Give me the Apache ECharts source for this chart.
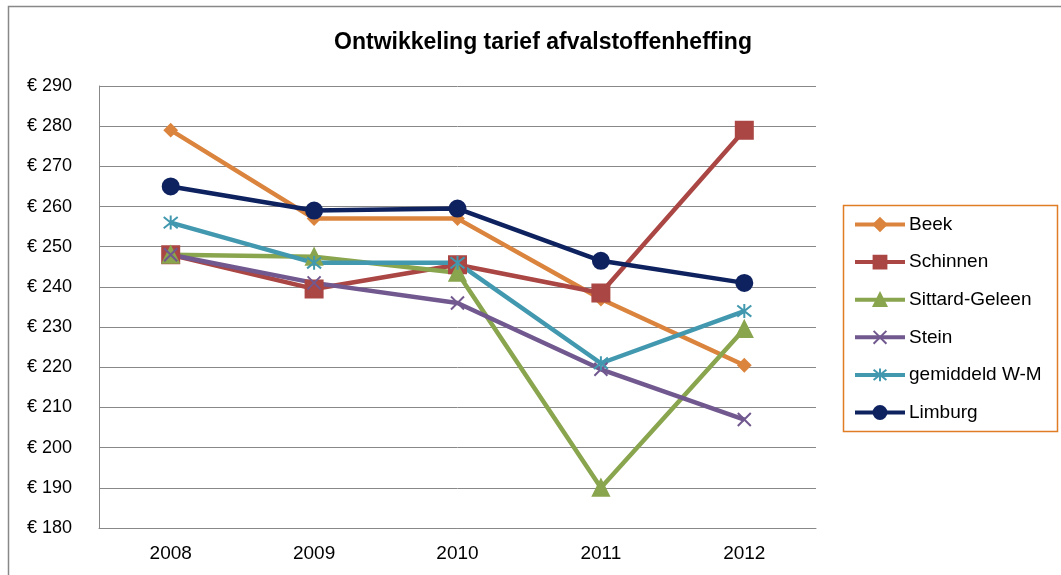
<!doctype html>
<html lang="nl">
<head>
    <meta charset="utf-8">
    <title>Ontwikkeling tarief afvalstoffenheffing</title>
    <script src="https://cdn.jsdelivr.net/npm/echarts@6/dist/echarts.min.js"></script>
    <style>
        html, body { margin: 0; padding: 0; background: #fff; }
        #chart { width: 1061px; height: 575px; }
    </style>
</head>
<body>
<div id="chart"></div>

<script type="text/javascript">
    // data
    const years = ['2008', '2009', '2010', '2011', '2012'];
    const beek = [279, 257, 257, 237, 220.5];
    const schinnen = [248, 239.5, 245.5, 238.5, 279];
    const sittardGeleen = [248, 247.5, 243.5, 190, 229.5];
    const stein = [248, 241, 236, 219.5, 207];
    const gemiddeldWM = [256, 246, 246, 221, 234];
    const limburg = [265, 259, 259.5, 246.5, 241];

    const crossPath = 'path://M0,0L10,10M10,0L0,10';
    const starPath = 'path://M0,1L10,9M10,1L0,9M5,0L5,10';

    function lineSeries(name, data, color, symbol, size) {
        return {
            name: name,
            type: 'line',
            data: data,
            symbol: symbol,
            symbolSize: size,
            lineStyle: {color: color, width: 4.5},
            itemStyle: {color: color, borderColor: color, borderWidth: 2},
            emphasis: {disabled: true}
        };
    }

    let chart = echarts.init(document.getElementById('chart'));

    let option = {
        animation: false,
        textStyle: {fontFamily: 'Liberation Sans, Arial, sans-serif'},
        title: {
            text: 'Ontwikkeling tarief afvalstoffenheffing',
            left: 538,
            textAlign: 'center',
            top: 26,
            textStyle: {fontSize: 23, fontWeight: 'bold', color: '#000'}
        },
        graphic: [
            {
                type: 'rect',
                shape: {x: 8.5, y: 6.5, width: 1070, height: 580},
                style: {fill: 'none', stroke: '#888', lineWidth: 1.5},
                silent: true
            },
            {
                type: 'rect',
                shape: {x: 843.5, y: 205.5, width: 214, height: 226},
                style: {fill: 'none', stroke: '#E07C24', lineWidth: 1.5},
                silent: true
            }
        ],
        legend: {
            orient: 'vertical',
            left: 853,
            top: 215,
            padding: 0,
            itemWidth: 50,
            itemHeight: 16,
            itemGap: 18.6,
            lineStyle: {width: 4},
            textStyle: {fontSize: 19, color: '#000', padding: [0, 0, 0, -1]},
            data: ['Beek', 'Schinnen', 'Sittard-Geleen', 'Stein', 'gemiddeld W-M', 'Limburg']
        },
        grid: {left: 99, top: 86, width: 717, height: 442},
        xAxis: {
            type: 'category',
            data: years,
            axisLine: {lineStyle: {color: '#888'}},
            axisTick: {show: false},
            axisLabel: {color: '#000', fontSize: 19, margin: 16}
        },
        yAxis: {
            type: 'value',
            min: 180,
            max: 290,
            interval: 10,
            axisLine: {show: true, lineStyle: {color: '#888'}},
            axisTick: {show: false},
            splitLine: {lineStyle: {color: '#888', width: 1}},
            axisLabel: {
                color: '#000',
                fontSize: 18,
                margin: 27,
                formatter: function (v) { return '€ ' + v; }
            }
        },
        series: [
            lineSeries('Beek', beek, '#DB843D', 'diamond', 12),
            lineSeries('Schinnen', schinnen, '#AA4643', 'rect', 17),
            lineSeries('Sittard-Geleen', sittardGeleen, '#89A54E', 'triangle', 16),
            lineSeries('Stein', stein, '#71588F', crossPath, 13),
            lineSeries('gemiddeld W-M', gemiddeldWM, '#4198AF', starPath, 14),
            lineSeries('Limburg', limburg, '#0F2260', 'circle', 16)
        ]
    };

    chart.setOption(option);
</script>
</body>
</html>
